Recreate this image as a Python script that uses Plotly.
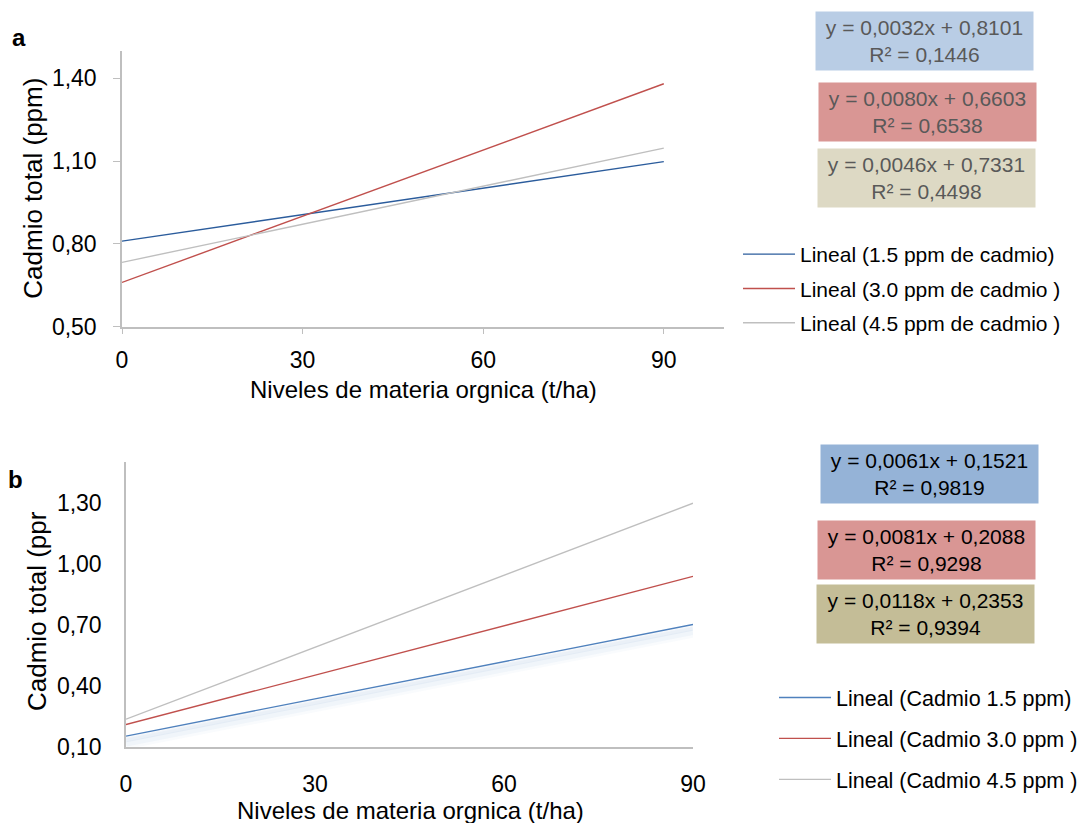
import plotly.graph_objects as go

W, H = 1078, 823

# Organic matter levels (t/ha)
x_levels = [0, 90]

# Panel a: fitted linear trends (slope, intercept, R²)
a_names = ["Lineal (1.5 ppm de cadmio)", "Lineal (3.0 ppm de cadmio )", "Lineal (4.5 ppm de cadmio )"]
a_slopes = [0.0032, 0.0080, 0.0046]
a_intercepts = [0.8101, 0.6603, 0.7331]
a_r2 = [0.1446, 0.6538, 0.4498]
a_colors = ["#2B5C9C", "#C0504D", "#BFBFBF"]
a_box_colors = ["#B9CDE5", "#D99694", "#DDD9C4"]

# Panel b: fitted linear trends (slope, intercept, R²)
b_names = ["Lineal (Cadmio 1.5 ppm)", "Lineal (Cadmio 3.0 ppm )", "Lineal (Cadmio 4.5 ppm )"]
b_slopes = [0.0061, 0.0081, 0.0118]
b_intercepts = [0.1521, 0.2088, 0.2353]
b_r2 = [0.9819, 0.9298, 0.9394]
b_colors = ["#4F81BD", "#C0504D", "#BFBFBF"]
b_box_colors = ["#95B3D7", "#D99694", "#C4BD97"]

x_ticks = [0, 30, 60, 90]
a_yticks = [0.50, 0.80, 1.10, 1.40]
b_yticks = [0.10, 0.40, 0.70, 1.00, 1.30]

FONT = "Liberation Sans, Arial, sans-serif"


def px_x(p):
    return p / W


def px_y(p):
    return 1 - p / H


def fmt(v):
    return f"{v:.4f}".replace(".", ",")


def trend(m, b):
    return [m * xv + b for xv in x_levels]


fig = go.Figure()

for name, m, b, c in zip(a_names, a_slopes, a_intercepts, a_colors):
    fig.add_trace(go.Scatter(
        x=x_levels, y=trend(m, b), mode="lines",
        line=dict(color=c, width=1.4), name=name, legend="legend",
        legendgroup=name, xaxis="x", yaxis="y", hoverinfo="skip"))

# Soft drop shadow beneath the 1.5 ppm trend of panel b
for drop, width, alpha in [(0.018, 5, 0.07), (0.032, 8, 0.05), (0.045, 8, 0.03)]:
    fig.add_trace(go.Scatter(
        x=x_levels, y=[v - drop for v in trend(b_slopes[0], b_intercepts[0])],
        mode="lines", line=dict(color=f"rgba(79,129,189,{alpha})", width=width),
        showlegend=False, xaxis="x2", yaxis="y2", hoverinfo="skip"))

for name, m, b, c in zip(b_names, b_slopes, b_intercepts, b_colors):
    fig.add_trace(go.Scatter(
        x=x_levels, y=trend(m, b), mode="lines",
        line=dict(color=c, width=1.4), name=name, legend="legend2",
        legendgroup=name, xaxis="x2", yaxis="y2", hoverinfo="skip"))

axis_common = dict(showgrid=False, zeroline=False, showline=True,
                   linecolor="#BFBFBF", linewidth=1.5,
                   tickfont=dict(family=FONT, size=23, color="#000000"))

fig.update_layout(
    width=W, height=H, margin=dict(l=0, r=0, t=0, b=0, autoexpand=False),
    paper_bgcolor="white", plot_bgcolor="white",
    font=dict(family=FONT, color="#000000"),
    xaxis=dict(domain=[px_x(122), px_x(724)], range=[0, 100], tickvals=x_ticks,
               ticks="outside", ticklen=6, tickcolor="#BFBFBF", ticklabelstandoff=6,
               anchor="y", **axis_common),
    yaxis=dict(domain=[px_y(326.7), px_y(50.7)], range=[0.5, 1.5], tickvals=a_yticks,
               ticktext=[f"{v:.2f}".replace(".", ",") for v in a_yticks],
               ticks="outside", ticklen=7, tickcolor="#BFBFBF", ticklabelstandoff=12,
               anchor="x", **axis_common),
    xaxis2=dict(domain=[px_x(126), px_x(693)], range=[0, 90], tickvals=x_ticks,
                ticks="", ticklabelstandoff=16, anchor="y2", **axis_common),
    yaxis2=dict(domain=[px_y(746.7), px_y(462)], range=[0.1, 1.5], tickvals=b_yticks,
                ticktext=[f"{v:.2f}".replace(".", ",") for v in b_yticks],
                ticks="", ticklabelstandoff=18, anchor="x2", **axis_common),
    legend=dict(x=px_x(738), y=px_y(234), xanchor="left", yanchor="top",
                font=dict(family=FONT, size=21, color="#000000"),
                bgcolor="rgba(0,0,0,0)", tracegroupgap=4, itemwidth=52,
                traceorder="grouped"),
    legend2=dict(x=px_x(774), y=px_y(677), xanchor="left", yanchor="top",
                 font=dict(family=FONT, size=21.5, color="#000000"),
                 bgcolor="rgba(0,0,0,0)", tracegroupgap=10, itemwidth=52,
                 traceorder="grouped"),
    showlegend=True,
)

annotations = []


def label(text, x, y, size, angle=0):
    return dict(text=text, x=px_x(x), y=px_y(y), xref="paper", yref="paper",
                xanchor="center", yanchor="middle", textangle=angle, showarrow=False,
                font=dict(family=FONT, size=size, color="#000000"))


# Panel letters
annotations.append(label("<b>a</b>", 19, 37, 24))
annotations.append(label("<b>b</b>", 15, 480, 24))

# Axis titles
annotations.append(label("Cadmio total (ppm)", 33, 188.7, 26, -90))
annotations.append(label("Niveles de materia orgnica (t/ha)", 423, 389, 24))
annotations.append(label("Cadmio total (ppr", 37, 611, 26, -90))
annotations.append(label("Niveles de materia orgnica (t/ha)", 410, 810, 24))

# Trend equation boxes
a_boxes = [(815, 11), (818, 82), (817, 148)]
for (bx, by), m, b, r2, bg in zip(a_boxes, a_slopes, a_intercepts, a_r2, a_box_colors):
    annotations.append(dict(
        text=f"y = {fmt(m)}x + {fmt(b)}<br>R² = {fmt(r2)}",
        x=px_x(bx), y=px_y(by), xref="paper", yref="paper", xanchor="left", yanchor="top",
        width=217, height=58, bgcolor=bg, borderpad=0, showarrow=False, align="center",
        font=dict(family=FONT, size=21, color="#595959")))

b_boxes = [(820, 444), (817, 520), (816, 584)]
for (bx, by), m, b, r2, bg in zip(b_boxes, b_slopes, b_intercepts, b_r2, b_box_colors):
    annotations.append(dict(
        text=f"y = {fmt(m)}x + {fmt(b)}<br>R² = {fmt(r2)}",
        x=px_x(bx), y=px_y(by), xref="paper", yref="paper", xanchor="left", yanchor="top",
        width=217, height=58, bgcolor=bg, borderpad=0, showarrow=False, align="center",
        font=dict(family=FONT, size=21, color="#000000")))

fig.update_layout(annotations=annotations)

fig.write_html("out.html")
